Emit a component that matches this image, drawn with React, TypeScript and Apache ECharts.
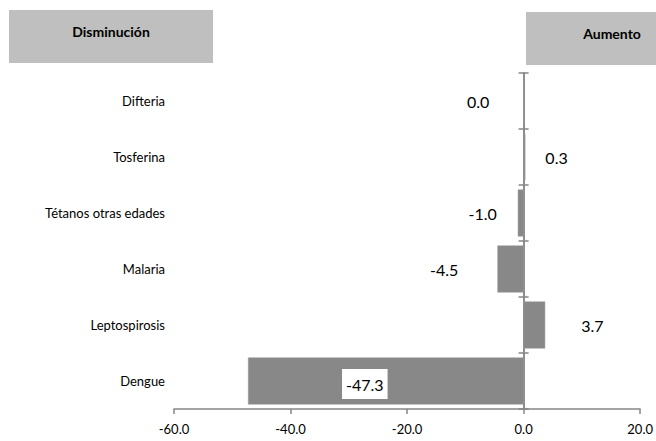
import React, { useEffect, useRef } from "react";
import * as echarts from "echarts";

const categories = ["Difteria", "Tosferina", "Tétanos otras edades", "Malaria", "Leptospirosis", "Dengue"];
const values = [0.0, 0.3, -1.0, -4.5, 3.7, -47.3];
const xTicks = { min: -60, max: 20, interval: 20 };
const headerLeft = "Disminución";
const headerRight = "Aumento";

const FONT = "Lato, 'Noto Sans', sans-serif";
const AXIS_COLOR = "#868686";
const BAR_COLOR = "#888888";

// label placement (style only)
const labelGap = [34, 20, 21, 39, 36, 0];

export default function App() {
  const ref = useRef<HTMLDivElement>(null);
  useEffect(() => {
    if (!ref.current) return;
    const chart = echarts.init(ref.current, null, { renderer: "svg" });
    const data = values.map((v, i) => {
      if (Math.abs(v) > 20) {
        return {
          value: v,
          label: {
            position: "inside",
            offset: [-21, 3],
            backgroundColor: "#ffffff",
            padding: [7, 4],
          },
        };
      }
      return {
        value: v,
        label: { position: v < 0 || (v === 0 && i === 0) ? "left" : "right", distance: labelGap[i] },
      };
    });
    const baseY = {
      type: "category",
      data: categories,
      inverse: true,
      splitLine: { show: false },
    };
    chart.setOption({
      animation: false,
      textStyle: { fontFamily: FONT },
      grid: { left: 174, right: 13, top: 73, bottom: 32, containLabel: false },
      graphic: [
        { type: "rect", shape: { x: 9, y: 10, width: 204, height: 53 }, style: { fill: "#BFBFBF" } },
        {
          type: "text",
          x: 111,
          y: 31,
          style: { text: headerLeft, font: `bold 14px ${FONT}`, fill: "#000", align: "center", verticalAlign: "middle" },
        },
        { type: "rect", shape: { x: 526, y: 12, width: 140, height: 53 }, style: { fill: "#BFBFBF" } },
        {
          type: "text",
          x: 612,
          y: 33,
          style: { text: headerRight, font: `bold 14px ${FONT}`, fill: "#000", align: "center", verticalAlign: "middle" },
        },
      ],
      xAxis: {
        type: "value",
        min: xTicks.min,
        max: xTicks.max,
        interval: xTicks.interval,
        splitLine: { show: false },
        axisLine: { show: true, onZero: false, lineStyle: { color: AXIS_COLOR, width: 1.5 } },
        axisTick: { show: true, length: 5, lineStyle: { color: AXIS_COLOR, width: 1.5 } },
        axisLabel: {
          color: "#000",
          fontSize: 13,
          fontFamily: FONT,
          margin: 13,
          formatter: (v: number) => v.toFixed(1),
        },
      },
      yAxis: [
        {
          ...baseY,
          position: "left",
          axisLine: { show: false, onZero: false },
          axisTick: { show: false },
          axisLabel: { color: "#000", fontSize: 13, fontFamily: FONT, margin: 9 },
        },
        {
          ...baseY,
          position: "left",
          axisLine: { show: true, onZero: true, onZeroAxisIndex: 0, lineStyle: { color: AXIS_COLOR, width: 1.5 } },
          axisTick: { show: true, length: 5, lineStyle: { color: AXIS_COLOR, width: 1.5 } },
          axisLabel: { show: false },
        },
        {
          ...baseY,
          position: "right",
          axisLine: { show: true, onZero: true, onZeroAxisIndex: 0, lineStyle: { color: AXIS_COLOR, width: 1.5 } },
          axisTick: { show: true, length: 5, lineStyle: { color: AXIS_COLOR, width: 1.5 } },
          axisLabel: { show: false },
        },
      ],
      series: [
        {
          type: "bar",
          yAxisIndex: 0,
          data,
          barCategoryGap: "16%",
          itemStyle: { color: BAR_COLOR, borderColor: "#9a9a9a", borderWidth: 0.5 },
          label: {
            show: true,
            color: "#000",
            fontSize: 16,
            fontFamily: FONT,
            formatter: (p: any) => Number(p.value).toFixed(1),
          },
        },
      ],
    });
    return () => chart.dispose();
  }, []);
  return (
    <div
      ref={ref}
      style={{ position: "fixed", left: 0, top: 0, width: 656, height: 441, background: "#fff" }}
    />
  );
}
